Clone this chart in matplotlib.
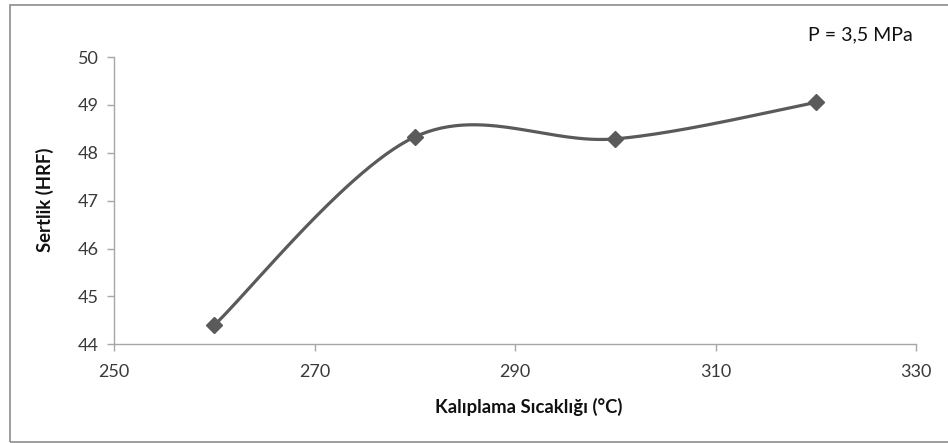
import numpy as np
import matplotlib
matplotlib.use("Agg")
import matplotlib.pyplot as plt
from matplotlib.patches import Rectangle

plt.rcParams['font.family'] = ['Lato', 'DejaVu Sans']

# Data
temperature = [260, 280, 300, 320]
hardness = [44.40, 48.33, 48.29, 49.05]
x_ticks = [250, 270, 290, 310, 330]
y_ticks = [44, 45, 46, 47, 48, 49, 50]
x_label = "Kalıplama Sıcaklığı (°C)"
y_label = "Sertlik (HRF)"
note = "P = 3,5 MPa"


def smooth_curve(xs, ys, n=60):
    """Catmull-Rom style cubic Bezier through the points (spreadsheet 'smoothed line')."""
    xs = np.asarray(xs, float)
    ys = np.asarray(ys, float)
    pts = np.column_stack([xs, ys])
    ext = np.vstack([pts[0], pts, pts[-1]])
    out = []
    for i in range(len(pts) - 1):
        p0, p1, p2, p3 = ext[i], ext[i + 1], ext[i + 2], ext[i + 3]
        c1 = p1 + (p2 - p0) / 6.0
        c2 = p2 - (p3 - p1) / 6.0
        t = np.linspace(0, 1, n)[:, None]
        seg = ((1 - t) ** 3) * p1 + 3 * ((1 - t) ** 2) * t * c1 + 3 * (1 - t) * t ** 2 * c2 + t ** 3 * p2
        out.append(seg if i == 0 else seg[1:])
    curve = np.vstack(out)
    return curve[:, 0], curve[:, 1]


W, H = 948, 443
fig = plt.figure(figsize=(W / 100, H / 100), dpi=100)
ax = fig.add_axes([114 / W, 1 - 344.3 / H, (916 - 114) / W, (344.3 - 57) / H])

line_color = "#5a5a5a"
cx, cy = smooth_curve(temperature, hardness)
ax.plot(cx, cy, color=line_color, lw=2.3, solid_capstyle="round", zorder=2)
ax.plot(temperature, hardness, linestyle="none", marker="D", markersize=8.5,
        color=line_color, zorder=3)

ax.set_xlim(250, 330)
ax.set_ylim(44, 50)
ax.set_xticks(x_ticks)
ax.set_yticks(y_ticks)

axis_grey = "#a6a6a6"
for side in ("top", "right"):
    ax.spines[side].set_visible(False)
for side in ("left", "bottom"):
    ax.spines[side].set_color(axis_grey)
    ax.spines[side].set_linewidth(1.0)
ax.tick_params(axis="both", direction="out", length=5, width=1.0, color=axis_grey,
               labelsize=13, labelcolor="#3a3a3a")
ax.tick_params(axis="x", pad=9)
ax.tick_params(axis="y", pad=6)

fig.text(529 / W, 1 - 407 / H, x_label, ha="center", va="center",
         fontsize=13.3, fontweight="bold", color="#111111")
fig.text(45 / W, 1 - 200 / H, y_label, ha="center", va="center", rotation=90,
         fontsize=13.3, fontweight="bold", color="#111111")
fig.text(860 / W, 1 - 35 / H, note, ha="center", va="center",
         fontsize=14, color="#111111")

# Chart-area frame
fig.patches.append(Rectangle((9.5 / W, 1 / H), (960 - 9.5) / W, (442 - 1 - 4) / H,
                             transform=fig.transFigure, fill=False,
                             edgecolor="#8c8c8c", lw=1.2))

fig.savefig("out.png", dpi=100)
